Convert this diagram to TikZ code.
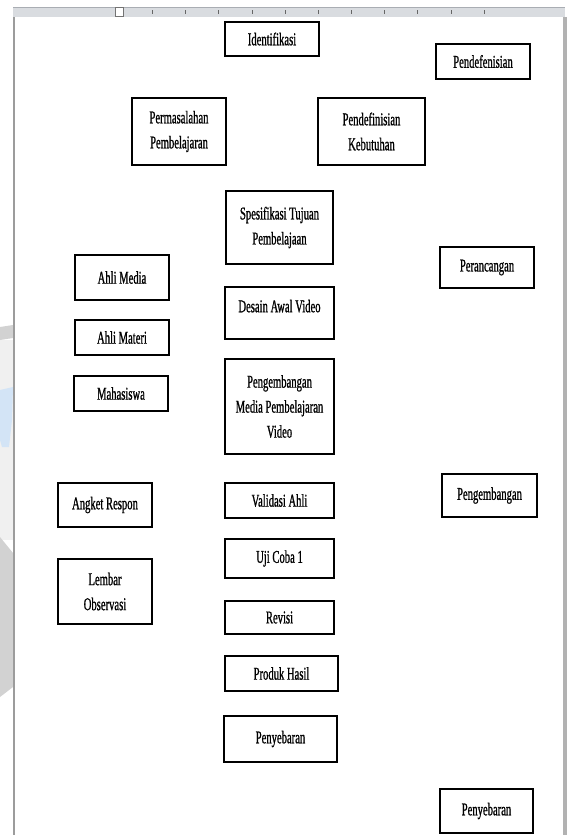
\documentclass[tikz,border=0pt]{standalone}
\usepackage{fontspec}
\setmainfont{Liberation Serif}[FakeStretch=0.59,FakeBold=0.9]
\definecolor{rulerbg}{HTML}{D9DCE0}
\definecolor{rulerline}{HTML}{A9ADB3}
\definecolor{pageedge}{HTML}{9C9C9C}
\definecolor{wmgray}{HTML}{D2D2D2}
\definecolor{wmlight}{HTML}{F0F0F0}
\definecolor{wmblue}{HTML}{D3E4F6}
\begin{document}
\begin{tikzpicture}[x=1pt,y=-1pt,
  box/.style={draw=black, line width=2.2pt, inner sep=0pt, align=center,
    font=\fontsize{18}{25}\selectfont, fill=white},
  tick/.style={draw=black!60, line width=0.7pt}
]
\useasboundingbox (0,0) rectangle (568,835);
\fill[white] (0,0) rectangle (568,835);
% watermark outside the page
\fill[wmlight] (0,340) rectangle (13,540);
\fill[wmgray] (0,327) -- (13,325) -- (13,338) -- (0,340) -- cycle;
\fill[wmblue] (0,390) -- (13,387) -- (12,420) -- (9,447) -- (2,447) -- (0,440) -- cycle;
\fill[wmgray] (0,537) -- (13,553) -- (13,687) -- (0,697) -- cycle;
% ruler
\fill[rulerbg] (13,7) rectangle (565,17);
\draw[rulerline, line width=0.8pt] (13,7.4) -- (565,7.4);
\foreach \t in {152,185,218,252,285,318,351,384,417,451,484}
  \draw[tick] (\t,10) -- (\t,14);
\filldraw[fill=white, draw=black!55, line width=0.6pt] (115,7.5) rectangle (123,16.5);
% page edges
\fill[pageedge] (13,17) rectangle (15,835);
\fill[black!30] (563,17) rectangle (567,835);

% boxes
\node[box, minimum width=94, minimum height=34] (ident) at (272,39) {Identifikasi};
\node[box, minimum width=94, minimum height=35] (pendef) at (483,61.5) {Pendefenisian};
\node[box, minimum width=94, minimum height=67] (perm) at (179,131.5) {Permasalahan\\Pembelajaran};
\node[box, minimum width=107, minimum height=67] (kebut) at (371.5,131.5) {Pendefinisian\\Kebutuhan};
\node[box, minimum width=107, minimum height=73] (spes) at (279.5,227.5) {Spesifikasi Tujuan\\Pembelajaan};
\node[box, minimum width=94, minimum height=45] (ahlimedia) at (122,277.5) {Ahli Media};
\node[box, minimum width=94, minimum height=41] (peranc) at (487,267.5) {Perancangan};
\node[box, minimum width=109, minimum height=52, text depth=14pt] (desain) at (279.5,313) {Desain Awal Video};
\node[box, minimum width=94, minimum height=35] (ahlimateri) at (122,337.5) {Ahli Materi};
\node[box, minimum width=94, minimum height=35] (mhs) at (121,393.5) {Mahasiswa};
\node[box, minimum width=109, minimum height=95] (pengmedia) at (279.5,406.5) {Pengembangan\\Media Pembelajaran\\Video};
\node[box, minimum width=94, minimum height=44] (angket) at (105,505) {Angket Respon};
\node[box, minimum width=109, minimum height=35] (valid) at (279.5,500.5) {Validasi Ahli};
\node[box, minimum width=95, minimum height=43] (pengemb) at (489.5,495.5) {Pengembangan};
\node[box, minimum width=109, minimum height=39] (uji) at (279.5,558.5) {Uji Coba 1};
\node[box, minimum width=94, minimum height=65] (lembar) at (105,591.5) {Lembar\\Observasi};
\node[box, minimum width=109, minimum height=33] (revisi) at (279.5,617.5) {Revisi};
\node[box, minimum width=113, minimum height=35] (produk) at (281.5,673.5) {Produk Hasil};
\node[box, minimum width=113, minimum height=46] (penyeb) at (280.5,739) {Penyebaran};
\node[box, minimum width=93, minimum height=44] (penyebR) at (486.5,811) {Penyebaran};
\end{tikzpicture}
\end{document}
